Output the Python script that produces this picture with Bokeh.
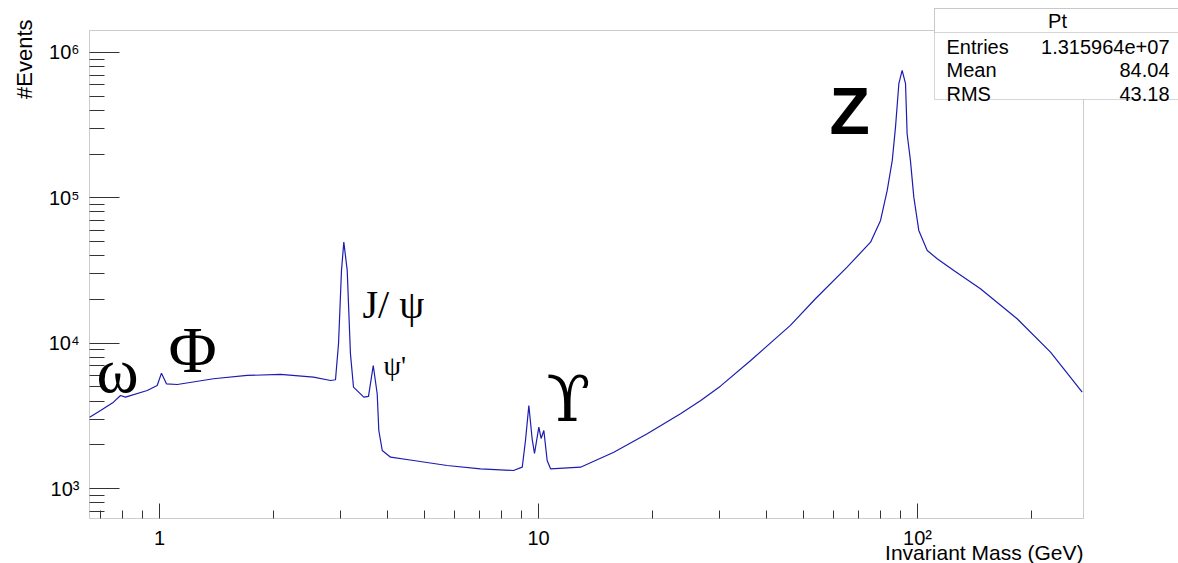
import math
from bokeh.plotting import figure
from bokeh.models import Label, BoxAnnotation, FixedTicker
from bokeh.embed import file_html
from bokeh.resources import INLINE

# ---------------- data ----------------
mass = [0.654, 0.699, 0.756, 0.789, 0.813, 0.928, 0.986, 1.012, 1.043, 1.114,
        1.388, 1.703, 2.086, 2.549, 2.827, 2.913, 2.967, 3.021, 3.064, 3.128,
        3.19, 3.25, 3.46, 3.56, 3.664, 3.753, 3.79, 3.87, 4.07, 4.68,
        5.74, 7.03, 8.59, 9.06, 9.24, 9.43, 9.62, 9.76, 10.02, 10.16,
        10.33, 10.54, 10.76, 12.91, 15.8, 19.36, 23.7, 26.8, 30.2, 36.3,
        46.2, 53.8, 65.2, 75.2, 79.9, 83.2, 85.8, 87.5, 89.3, 91.1,
        93.0, 93.9, 95.8, 97.8, 100.8, 106.1, 112.7, 124.7, 146.6, 183.2,
        224.4, 272.0]
events = [3096, 3443, 3926, 4365, 4250, 4726, 5115, 6217, 5254, 5196,
          5689, 5995, 6090, 5834, 5537, 5600, 9906, 31650, 49560, 31650,
          8453, 4979, 4250, 4300, 7022, 4485, 2507, 1826, 1642, 1558,
          1440, 1366, 1330, 1402, 2140, 3727, 2198, 1741, 2642, 2209,
          2507, 1558, 1366, 1402, 1777, 2379, 3267, 4030, 5060, 7600,
          13250, 20210, 33340, 49560, 69900, 112400, 180900, 306600, 610000, 753000,
          610000, 276200, 180900, 101100, 59660, 43450, 38090, 31650, 23680, 14720,
          8670, 4600]

x_lo, x_hi = 0.6535, 274.2          # histogram axis range
y_lo, y_hi = 621.7, 1.417e6

x_major = [1, 10, 100]
x_major_labels = ["1", "10", "10\u00b2"]
x_minor = [0.7, 0.8, 0.9, 2, 3, 4, 5, 6, 7, 8, 9, 20, 30, 40, 50, 60, 70, 80, 90, 200]
y_major = [1000, 10000, 100000, 1000000]
y_major_labels = ["10\u00b3", "10\u2074", "10\u2075", "10\u2076"]
y_minor = [k * 10 ** e for e in (2, 3, 4, 5) for k in range(2, 10)]
y_minor = [v for v in y_minor if y_lo < v < y_hi]

stats_title = "Pt"
stats_names = ["Entries", "Mean", "RMS"]
stats_values = ["1.315964e+07", "84.04", "43.18"]

x_title = "Invariant Mass (GeV)"
y_title = "#Events"

# ---------------- geometry ----------------
W, H = 1178, 563
FL, FR, FT, FB = 89, 1083, 30, 518      # ROOT frame in canvas pixels
XDEC = (FR - FL) / math.log10(x_hi / x_lo)
YDEC = (FB - FT) / math.log10(y_hi / y_lo)
full_x = (10 ** (math.log10(x_lo) - FL / XDEC), 10 ** (math.log10(x_hi) + (W - FR) / XDEC))
full_y = (10 ** (math.log10(y_lo) - (H - FB) / YDEC), 10 ** (math.log10(y_hi) + FT / YDEC))

p = figure(width=W, height=H, x_axis_type="log", y_axis_type="log",
           x_range=full_x, y_range=full_y,
           output_backend="svg", toolbar_location=None, min_border=0)
p.background_fill_color = "white"
p.border_fill_color = "white"
p.outline_line_color = None
p.grid.visible = False

p.xaxis.fixed_location = y_lo
p.yaxis.fixed_location = x_lo
p.xaxis.ticker = FixedTicker(ticks=x_major, minor_ticks=x_minor)
p.yaxis.ticker = FixedTicker(ticks=y_major, minor_ticks=y_minor)
p.xaxis.major_label_overrides = dict(zip(x_major, x_major_labels))
p.yaxis.major_label_overrides = dict(zip(y_major, y_major_labels))

for ax in (p.xaxis, p.yaxis):
    ax.axis_line_color = None
    ax.major_tick_line_color = "#333333"
    ax.minor_tick_line_color = "#333333"
    ax.major_tick_out = 0
    ax.minor_tick_out = 0
    ax.major_label_text_font = "Liberation Sans"
    ax.major_label_text_font_size = "20px"
    ax.major_label_text_color = "black"
p.xaxis.major_tick_in = 15
p.xaxis.minor_tick_in = 8
p.yaxis.major_tick_in = 30
p.yaxis.minor_tick_in = 15
p.xaxis.major_label_standoff = 8
p.yaxis.major_label_standoff = 10


def box(l, t, r, b, fill=None, color="#555555"):
    p.add_layout(BoxAnnotation(left=l, right=r, top=H - t, bottom=H - b,
                               left_units="screen", right_units="screen",
                               top_units="screen", bottom_units="screen",
                               fill_color=fill if fill else "white",
                               fill_alpha=1.0 if fill else 0.0,
                               line_color=color, line_width=1))


def lab(text, cx, cy, size, font="Liberation Sans", align="left",
        baseline="middle", style="normal", angle=0.0):
    p.add_layout(Label(x=cx, y=H - cy, x_units="screen", y_units="screen",
                       text=text, text_font=font, text_font_size=size,
                       text_align=align, text_baseline=baseline,
                       text_font_style=style, text_color="black", angle=angle))


# ROOT frame
box(FL, FT, FR, FB)

p.line(mass, events, line_color="#1c1cb0", line_width=1.2)

# axis titles
lab(y_title, 24, 19, "22px", align="right", angle=math.pi / 2)
lab(x_title, 1083, 552, "21px", align="right")

# particle annotations
lab("\u03c9", 96, 370, "64px", font="Liberation Serif")
lab("\u03a6", 168, 349, "66px", font="Liberation Serif")
lab("J/ \u03c8", 362, 304, "40px", font="Liberation Serif")
lab("\u03c8'", 383, 365, "28px", font="Liberation Serif")
lab("\u03d2", 546, 398, "64px", font="DejaVu Serif")
lab("Z", 829, 110, "66px", style="bold")

# statistics box
box(934, 8, 1182, 99, fill="white", color="#777777")
box(934, 8, 1182, 32, fill="white", color="#777777")
lab(stats_title, 1057, 20, "20px", align="center")
for i, (nm, val) in enumerate(zip(stats_names, stats_values)):
    cy = 46 + i * 23.5
    lab(nm, 946, cy, "20px")
    lab(val, 1169, cy, "20px", align="right")

open("out.html", "w").write(file_html(p, INLINE))
